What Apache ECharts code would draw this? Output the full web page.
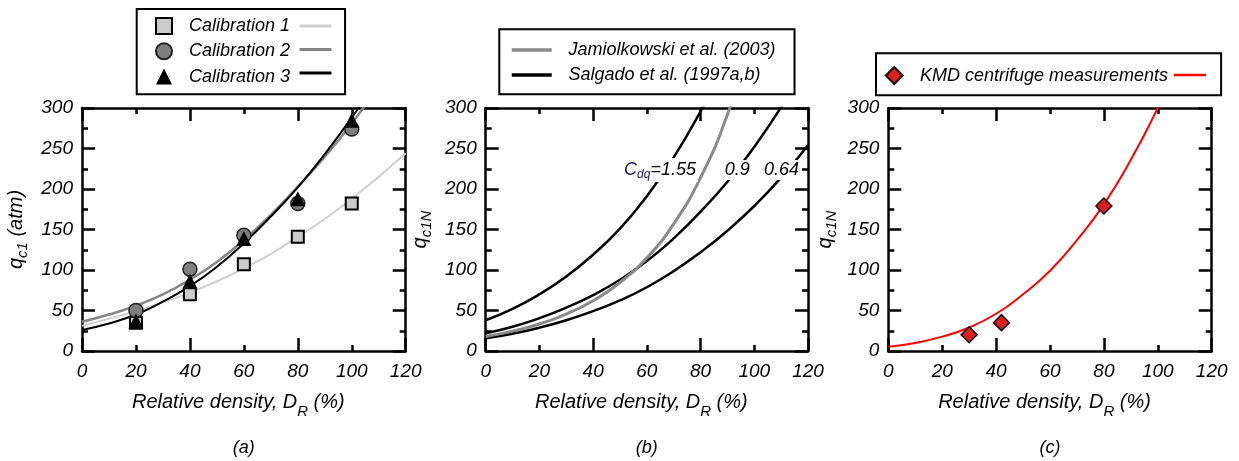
<!DOCTYPE html>
<html>
<head>
<meta charset="utf-8">
<script src="https://cdn.jsdelivr.net/npm/echarts/dist/echarts.min.js"></script>
<style>
html,body{margin:0;padding:0;background:#fff;}
#chart{width:1239px;height:461px;}
</style>
</head>
<body>
<div id="chart"></div>
<script>
// ---------- data ----------
const xTickLabels = [0, 20, 40, 60, 80, 100, 120];
const yTickLabels = [0, 50, 100, 150, 200, 250, 300];

// panel (a): measured points
const calX = [20, 40, 60, 80, 100];
const cal1 = [35, 70, 107, 141, 182];
const cal2 = [50, 101, 143, 182, 274];
const cal3 = [37, 86, 139, 188, 285];
// panel (a): fitted curves
const fitX = [0, 10, 20, 30, 40, 50, 60, 70, 80, 90, 100, 110, 120];
const fit1 = [31, 40, 49, 60, 72, 86, 102, 120, 141, 163, 188, 215, 244];
const fit2 = [36, 45, 56, 70, 88, 110, 137, 168, 203, 240, 281, 327, 378];
const fit3 = [26, 34, 45, 61, 80, 104, 133, 166, 202, 243, 288, 337, 390];

// panel (b): correlations
const corrX = [0, 10, 20, 30, 40, 50, 60, 70, 80, 90, 100, 110, 120];
const jamX = [0, 10, 20, 30, 40, 50, 60, 70, 80, 90, 100];
const jamiolkowski = [18, 24.5, 33.4, 45.6, 62, 84.6, 115, 157, 214, 292, 398];
const salgado155 = [38, 52, 70, 92, 119, 151, 191, 239, 296, 360, 430, 510, 600];
const salgado090 = [22, 30, 40.5, 53.5, 69, 88, 111, 139, 172, 209, 252, 301, 357];
const salgado064 = [15.7, 21.4, 28.8, 38, 49.3, 62.4, 78.7, 98.6, 122, 148.5, 179, 214, 254];
const annotX = [64.9, 93.7, 110.1];
const annotY = [223.5, 223.5, 223.5];
const annotText = ['{c|C}{d|dq}{n|=1.55}', '{n|0.9}', '{n|0.64}'];

// panel (c): KMD centrifuge
const kmdX = [30, 42, 80];
const kmdY = [20, 35, 179];
const kmdFitX = [0, 10, 20, 30, 40, 50, 60, 70, 80, 90, 100, 110];
const kmdFit = [5.3, 10, 17.7, 29, 46, 70, 99, 137, 181, 236, 300, 370];

const panelLabels = ['(a)', '(b)', '(c)'];

// ---------- styling / layout ----------
const FONT = '"Liberation Sans", Arial, Helvetica, sans-serif';
const zip = (xs, ys) => xs.map((x, i) => [x, ys[i]]);
const grids = [
  { left: 82, top: 108, width: 323.7, height: 243 },
  { left: 485.7, top: 108, width: 322.3, height: 243 },
  { left: 888.3, top: 108, width: 323.4, height: 243 }
];
const lineBlack = { color: '#000', width: 2.5 };
const tickCommon = { show: true, inside: true, length: 13, lineStyle: lineBlack };
const minorCommon = { show: true, splitNumber: 2, length: 6, lineStyle: lineBlack };
const italic = { fontStyle: 'italic', color: '#000', fontFamily: FONT };
const SMOOTH = { smooth: true, symbol: 'none' };

function xAxes(g) {
  return [
    {
      gridIndex: g, type: 'value', position: 'bottom', min: 0, max: 120, interval: 40,
      axisLine: { show: true, onZero: false, lineStyle: lineBlack },
      axisTick: tickCommon, minorTick: minorCommon,
      splitLine: { show: false }, minorSplitLine: { show: false },
      axisLabel: Object.assign({ show: true, customValues: xTickLabels, margin: 11, fontSize: 19 }, italic),
      name: '{t|Relative density, D}{s|R}{t| (%)}', nameLocation: 'middle', nameGap: 35,
      nameMoveOverlap: false,
      nameTextStyle: { padding: [0, 11, 0, 0], rich: {
        t: Object.assign({ fontSize: 20 }, italic),
        s: Object.assign({ fontSize: 15, padding: [18, 0, 0, 0] }, italic)
      } }
    },
    {
      gridIndex: g, type: 'value', position: 'top', min: 0, max: 120, interval: 40,
      axisLine: { show: true, onZero: false, lineStyle: lineBlack },
      axisTick: tickCommon, minorTick: minorCommon,
      splitLine: { show: false }, minorSplitLine: { show: false },
      axisLabel: { show: false }
    }
  ];
}
function yAxes(g, name, gap) {
  return [
    {
      gridIndex: g, type: 'value', position: 'left', min: 0, max: 300, interval: 50,
      axisLine: { show: true, onZero: false, lineStyle: lineBlack },
      axisTick: tickCommon, minorTick: minorCommon,
      splitLine: { show: false }, minorSplitLine: { show: false },
      axisLabel: Object.assign({ show: true, customValues: yTickLabels, margin: 9, fontSize: 19 }, italic),
      name: name, nameLocation: 'middle', nameGap: gap, nameRotate: 90, nameMoveOverlap: false,
      nameTextStyle: { rich: {
        t: Object.assign({ fontSize: 20 }, italic),
        s: Object.assign({ fontSize: 15, padding: [12, 0, 0, 0] }, italic)
      } }
    },
    {
      gridIndex: g, type: 'value', position: 'right', min: 0, max: 300, interval: 50,
      axisLine: { show: true, onZero: false, lineStyle: lineBlack },
      axisTick: tickCommon, minorTick: minorCommon,
      splitLine: { show: false }, minorSplitLine: { show: false },
      axisLabel: { show: false }
    }
  ];
}

const legendText = (pad) => Object.assign({ fontSize: 18, padding: [0, 0, 0, pad] }, italic);
const hiddenSymbol = { color: 'rgba(0,0,0,0)', borderColor: 'rgba(0,0,0,0)', borderWidth: 0 };

const option = {
  animation: false,
  backgroundColor: '#fff',
  grid: grids.map(g => Object.assign({ outerBoundsMode: 'none', containLabel: false }, g)),
  xAxis: [].concat(xAxes(0), xAxes(1), xAxes(2)),
  yAxis: [].concat(
    yAxes(0, '{t|q}{s|c1}{t| (atm)}', 52),
    yAxes(1, '{t|q}{s|c1N}', 51.5),
    yAxes(2, '{t|q}{s|c1N}', 49)
  ),
  legend: [
    {
      orient: 'vertical', left: 136.7, top: 9, padding: [8, 55, 8.6, 18.3],
      itemWidth: 16, itemHeight: 16, itemGap: 7.3,
      borderColor: '#000', borderWidth: 2, backgroundColor: '#fff',
      textStyle: legendText(12),
      data: [
        { name: 'Calibration 1', icon: 'rect' },
        { name: 'Calibration 2', icon: 'circle' },
        { name: 'Calibration 3', icon: 'triangle' }
      ]
    },
    {
      orient: 'vertical', left: 298, top: 17, padding: 0, z: 5,
      itemWidth: 32, itemHeight: 18, itemGap: 7.3,
      itemStyle: hiddenSymbol, lineStyle: { width: 3 },
      formatter: () => '', textStyle: { fontSize: 18 },
      data: ['Calibration 1 fit', 'Calibration 2 fit', 'Calibration 3 fit']
    },
    {
      orient: 'vertical', left: 499.3, top: 29.3, padding: [11.7, 19, 10.3, 10.7],
      itemWidth: 40, itemHeight: 18, itemGap: 7,
      itemStyle: hiddenSymbol, lineStyle: { width: 3.5 },
      borderColor: '#000', borderWidth: 2, backgroundColor: '#fff',
      textStyle: legendText(11.7),
      data: ['Jamiolkowski et al. (2003)', 'Salgado et al. (1997a,b)']
    },
    {
      orient: 'vertical', left: 876, top: 53.3, padding: [12.7, 53, 10.3, 8.8],
      itemWidth: 17, itemHeight: 17, itemGap: 7,
      borderColor: '#000', borderWidth: 2, backgroundColor: '#fff',
      textStyle: legendText(12.2),
      data: [{ name: 'KMD centrifuge measurements', icon: 'diamond' }]
    },
    {
      orient: 'vertical', left: 1172.7, top: 66, padding: 0, z: 5,
      itemWidth: 32, itemHeight: 18,
      itemStyle: hiddenSymbol, lineStyle: { width: 2.5 },
      formatter: () => '', textStyle: { fontSize: 18 },
      data: ['KMD fit']
    }
  ],
  graphic: panelLabels.map((t, i) => ({
    type: 'text',
    x: grids[i].left + grids[i].width / 2, y: 448,
    style: { text: t, fontSize: 18, fontStyle: 'italic', fontFamily: FONT, fill: '#000',
             align: 'center', verticalAlign: 'middle' }
  })),
  series: [
    // panel (a) fitted curves
    Object.assign({ name: 'Calibration 1 fit', type: 'line', xAxisIndex: 0, yAxisIndex: 0, data: zip(fitX, fit1),
      lineStyle: { color: '#cfcfcf', width: 2 }, itemStyle: { color: '#cfcfcf' }, z: 2 }, SMOOTH),
    Object.assign({ name: 'Calibration 2 fit', type: 'line', xAxisIndex: 0, yAxisIndex: 0, data: zip(fitX, fit2),
      lineStyle: { color: '#858585', width: 2.5 }, itemStyle: { color: '#858585' }, z: 2 }, SMOOTH),
    Object.assign({ name: 'Calibration 3 fit', type: 'line', xAxisIndex: 0, yAxisIndex: 0, data: zip(fitX, fit3),
      lineStyle: { color: '#000', width: 2 }, itemStyle: { color: '#000' }, z: 2 }, SMOOTH),
    // panel (a) points
    { name: 'Calibration 1', type: 'scatter', xAxisIndex: 0, yAxisIndex: 0, data: zip(calX, cal1),
      symbol: 'rect', symbolSize: 12, itemStyle: { color: '#cccccc', borderColor: '#000', borderWidth: 2, opacity: 1 }, z: 4 },
    { name: 'Calibration 2', type: 'scatter', xAxisIndex: 0, yAxisIndex: 0, data: zip(calX, cal2),
      symbol: 'circle', symbolSize: 14, itemStyle: { color: '#7f7f7f', borderColor: '#222', borderWidth: 1.5, opacity: 1 }, z: 4 },
    { name: 'Calibration 3', type: 'scatter', xAxisIndex: 0, yAxisIndex: 0, data: zip(calX, cal3),
      symbol: 'triangle', symbolSize: 15, itemStyle: { color: '#000', opacity: 1 }, z: 4 },
    // panel (b)
    Object.assign({ name: 'Salgado et al. (1997a,b)', type: 'line', xAxisIndex: 2, yAxisIndex: 2, data: zip(corrX, salgado155),
      lineStyle: { color: '#000', width: 2.5 }, itemStyle: { color: '#000' }, z: 2 }, SMOOTH),
    Object.assign({ name: 'Salgado et al. (1997a,b)', type: 'line', xAxisIndex: 2, yAxisIndex: 2, data: zip(corrX, salgado090),
      lineStyle: { color: '#000', width: 2.5 }, itemStyle: { color: '#000' }, z: 2 }, SMOOTH),
    Object.assign({ name: 'Salgado et al. (1997a,b)', type: 'line', xAxisIndex: 2, yAxisIndex: 2, data: zip(corrX, salgado064),
      lineStyle: { color: '#000', width: 2.5 }, itemStyle: { color: '#000' }, z: 2 }, SMOOTH),
    Object.assign({ name: 'Jamiolkowski et al. (2003)', type: 'line', xAxisIndex: 2, yAxisIndex: 2, data: zip(jamX, jamiolkowski),
      lineStyle: { color: '#8a8a8a', width: 3 }, itemStyle: { color: '#8a8a8a' }, z: 3 }, SMOOTH),
    { name: 'annotations', type: 'scatter', xAxisIndex: 2, yAxisIndex: 2, symbolSize: 1, z: 6,
      itemStyle: { color: 'rgba(0,0,0,0)', opacity: 1 },
      data: annotX.map((x, i) => ({ value: [x, annotY[i]], label: { formatter: annotText[i] } })),
      label: { show: true, position: 'inside', backgroundColor: '#fff', padding: [1, 2],
        color: '#000', textBorderWidth: 0, opacity: 1,
        rich: {
          c: Object.assign({ fontSize: 18 }, italic, { color: '#23235a', textBorderWidth: 0 }),
          d: Object.assign({ fontSize: 12, padding: [10, 0, 0, 0] }, italic, { color: '#23235a', textBorderWidth: 0 }),
          n: Object.assign({ fontSize: 18 }, italic, { textBorderWidth: 0 })
        } } },
    // panel (c)
    Object.assign({ name: 'KMD fit', type: 'line', xAxisIndex: 4, yAxisIndex: 4, data: zip(kmdFitX, kmdFit),
      lineStyle: { color: '#ff0000', width: 2 }, itemStyle: { color: '#ff0000' }, z: 2 }, SMOOTH),
    { name: 'KMD centrifuge measurements', type: 'scatter', xAxisIndex: 4, yAxisIndex: 4, data: zip(kmdX, kmdY),
      symbol: 'diamond', symbolSize: 16, itemStyle: { color: '#dd1f1f', borderColor: '#111', borderWidth: 1.5, opacity: 1 }, z: 4 }
  ]
};

const chart = echarts.init(document.getElementById('chart'), null, { renderer: 'canvas' });
chart.setOption(option);
</script>
</body>
</html>
